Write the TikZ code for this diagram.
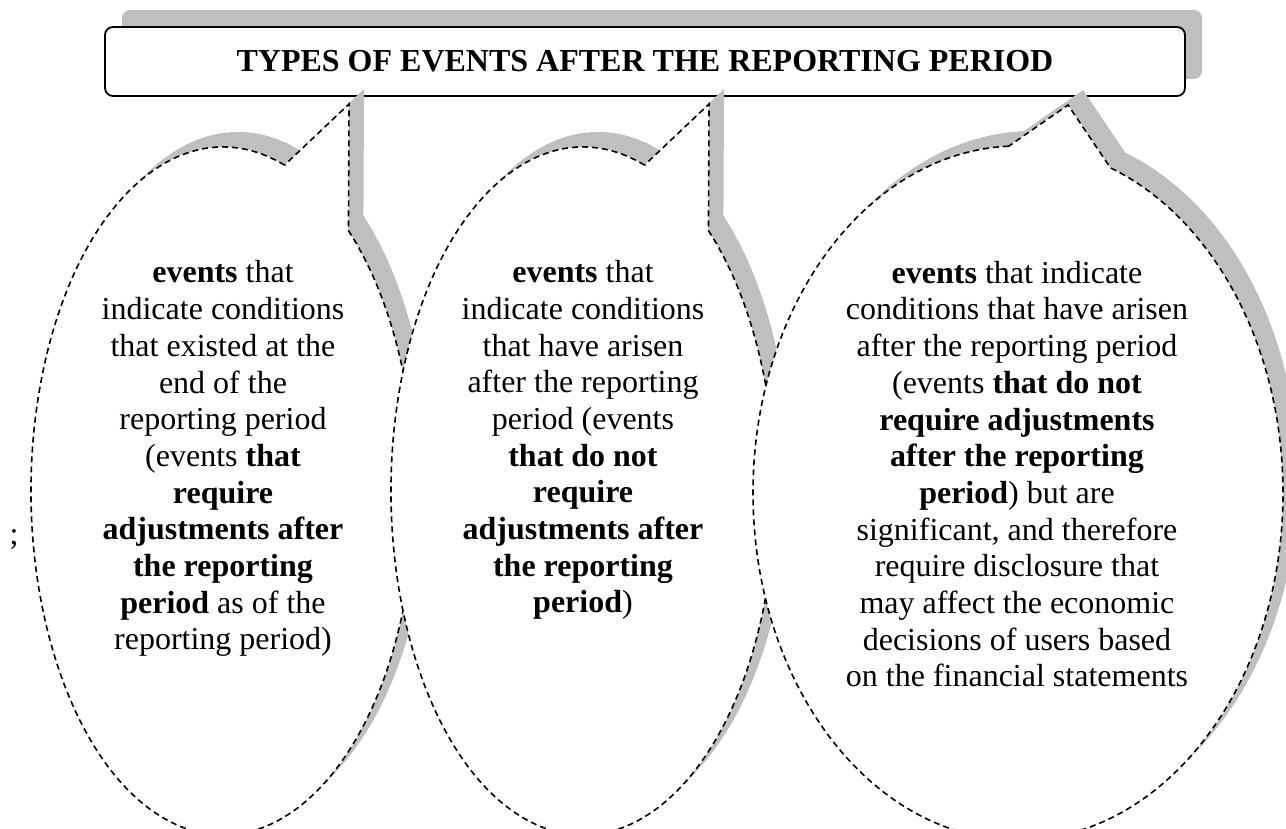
\documentclass[tikz,border=0pt]{standalone}
\usepackage{fontspec}
\setmainfont{Liberation Serif}
\usetikzlibrary{shadows}
\definecolor{shadowgrey}{RGB}{191,191,191}
% oval callout outline: centre, radii, pointer base angles, pointer tip
\newcommand\ovalpath[8]{(#1,#2) ++(#6:#3 and #4)
  arc[start angle=#6, end angle=#5+360, x radius=#3, y radius=#4]
  -- (#7,#8) -- cycle}
\begin{document}
\begin{tikzpicture}[x=1pt,y=1pt,
  dropgrey/.style={fill=shadowgrey, draw=none},
  bubble/.style={fill=white, draw=black, line width=1.6pt,
    dash pattern=on 6pt off 4pt},
  bubbletext/.style={align=center, inner sep=0pt, anchor=base,
    font=\fontsize{32}{36.7}\selectfont},
  titlebox/.style={draw=black, fill=white, line width=1.8pt,
    rounded corners=8pt, minimum width=1080pt, minimum height=69pt,
    inner sep=0pt, font=\fontsize{32}{36.7}\selectfont\bfseries,
    drop shadow={shadow xshift=17pt, shadow yshift=17pt,
      fill=shadowgrey, opacity=1}}]
\useasboundingbox (0,0) rectangle (1286,829);
\clip (0,0) rectangle (1286,829);

% heading box
\node[titlebox] (title) at (645,767.5) {TYPES OF EVENTS AFTER THE REPORTING PERIOD};

% shadows of the three callouts
\fill[dropgrey, shift={(15,15)}] \ovalpath{223}{338}{192}{344}{49.2}{71.3}{349}{725};
\fill[dropgrey, shift={(15,15)}] \ovalpath{583}{338}{192}{344}{49.2}{71.3}{709}{725};
\fill[dropgrey, shift={(15,15)}] \ovalpath{1018}{336}{265}{347}{69.6}{92}{1068}{724};

% the callouts themselves
\filldraw[bubble] \ovalpath{223}{338}{192}{344}{49.2}{71.3}{349}{725};
\filldraw[bubble] \ovalpath{583}{338}{192}{344}{49.2}{71.3}{709}{725};
\filldraw[bubble] \ovalpath{1018}{336}{265}{347}{69.6}{92}{1068}{724};

% texts (anchored at the baseline of their last line)
\node[bubbletext] (adjusting) at (223,179) {\textbf{events} that\\
  indicate conditions\\ that existed at the\\ end of the\\ reporting period\\
  (events \textbf{that}\\ \textbf{require}\\ \textbf{adjustments after}\\
  \textbf{the reporting}\\ \textbf{period} as of the\\ reporting period)};
\node[bubbletext] (nonadjusting) at (583,216) {\textbf{events} that\\
  indicate conditions\\ that have arisen\\ after the reporting\\ period (events\\
  \textbf{that do not}\\ \textbf{require}\\ \textbf{adjustments after}\\
  \textbf{the reporting}\\ \textbf{period})};
\node[bubbletext] (significant) at (1017,142) {\textbf{events} that indicate\\
  conditions that have arisen\\ after the reporting period\\
  (events \textbf{that do not}\\ \textbf{require adjustments}\\
  \textbf{after the reporting}\\ \textbf{period}) but are\\
  significant, and therefore\\ require disclosure that\\
  may affect the economic\\ decisions of users based\\
  on the financial statements};
\node[bubbletext] (semicolon) at (14,284) {;};
\end{tikzpicture}
\end{document}
